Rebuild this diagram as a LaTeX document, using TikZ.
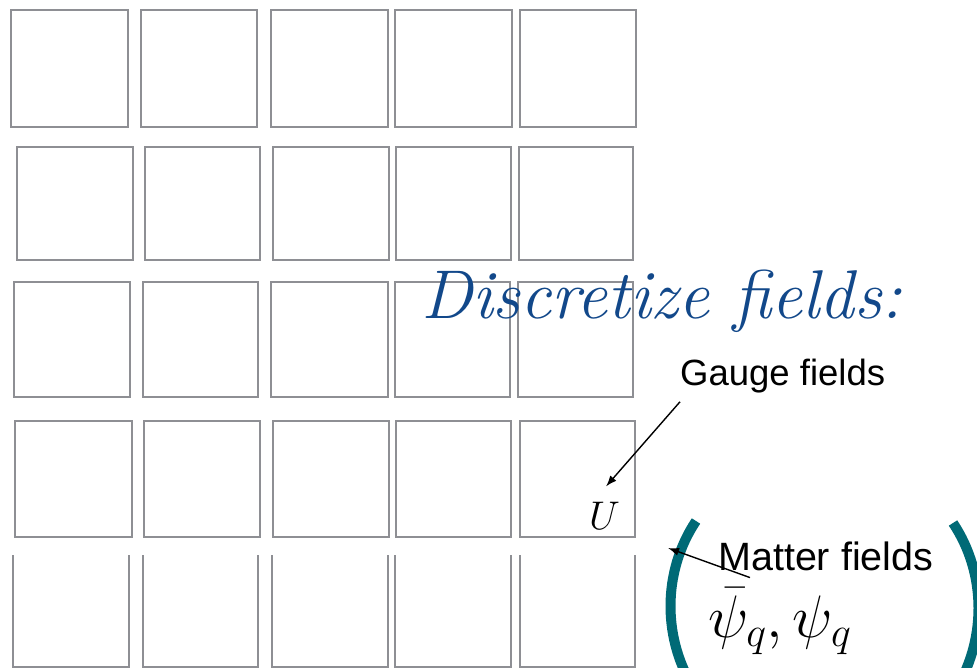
\RequirePackage{fix-cm}
\documentclass[tikz,border=0pt]{standalone}
\usepackage{fontspec}
\newfontfamily\labelfont{Liberation Sans}
\usetikzlibrary{arrows.meta}
\definecolor{cellgray}{RGB}{142,143,148}
\definecolor{titleblue}{RGB}{18,72,138}
\definecolor{parenteal}{RGB}{0,106,118}
\begin{document}
\begin{tikzpicture}[
    x=1pt,
    y=-1pt,
    cell/.style={cellgray, line width=1.7pt},
    pointer/.style={black, line width=1.4pt, -{Latex[length=11pt, width=8pt]}},
    paren/.style={parenteal, line width=10pt},
    title/.style={titleblue, inner sep=0pt, anchor=base west},
    label/.style={black, inner sep=0pt, anchor=base west}
]

% =========================================================
% AREA
% =========================================================

\useasboundingbox (0,0) rectangle (977,668);
\clip (0,0) rectangle (977,668);

% =========================================================
% RETICOLO
% =========================================================

% riga 1
\foreach \xa/\xb in {11/128,141/257,271/388,395/512,520/636}
    \draw[cell] (\xa,10) rectangle (\xb,127);

% riga 2
\foreach \xa/\xb in {17/133,145/260,273/389,396/511,519/633}
    \draw[cell] (\xa,147) rectangle (\xb,260);

% riga 3
\foreach \xa/\xb in {14/130,143/258,271/388,395/510,518/633}
    \draw[cell] (\xa,282) rectangle (\xb,397);

% riga 4
\foreach \xa/\xb in {15/132,144/260,273/389,396/511,520/635}
    \draw[cell] (\xa,421) rectangle (\xb,537);

% riga 5 (aperta in alto)
\foreach \xa/\xb in {13/129,143/258,272/388,395/511,520/635}
    \draw[cell] (\xa,555) -- (\xa,667) -- (\xb,667) -- (\xb,555);

% =========================================================
% TITOLO
% =========================================================

\node[title] (discretize) at (421,319)
    {\fontsize{69}{69}\selectfont\itshape Discretize fields:};

% =========================================================
% CAMPI DI GAUGE
% =========================================================

\node[label] (gauge) at (680,385)
    {\labelfont\fontsize{36.5}{36.5}\selectfont Gauge fields};

\node[label] (U) at (589,529)
    {\fontsize{40}{40}\selectfont $U$};

\draw[pointer] ([shift={(0,9)}]gauge.south west) -- ([shift={(17,-15)}]U.north west);

% =========================================================
% CAMPI DI MATERIA
% =========================================================

% Parentesi
\draw[paren] (696,521) .. controls (662,572) and (662,640) .. (696,692);
\draw[paren] (953,523) .. controls (987,574) and (987,642) .. (953,694);

\node[label] (matter) at (718,570)
    {\labelfont\fontsize{39.5}{39.5}\selectfont Matter fields};

\node[label] (psi) at (708,637)
    {\fontsize{60}{60}\selectfont $\bar{\psi}_q,\psi_q$};

\coordinate (mattertip) at (668,548);
\draw[pointer] ([shift={(32,7)}]matter.south west) -- (mattertip);

\end{tikzpicture}
\end{document}
